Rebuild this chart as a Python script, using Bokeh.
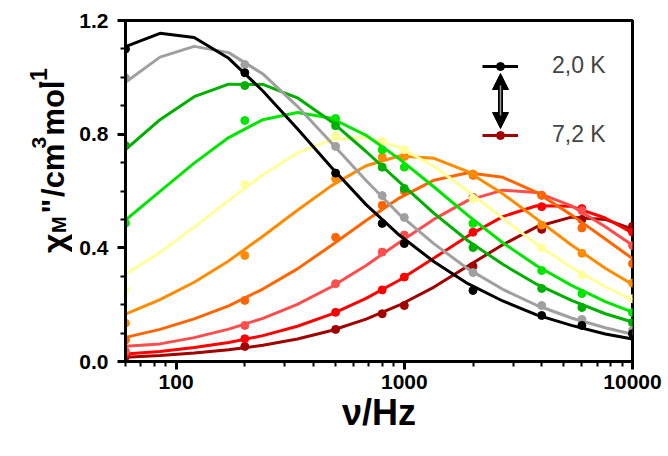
import math
from bokeh.plotting import figure
from bokeh.layouts import row
from bokeh.models import (FixedTicker, Label, Arrow, NormalHead, Legend, LegendItem,
                          Range1d, PrintfTickFormatter)
from bokeh.embed import file_html
from bokeh.resources import INLINE

# ---------------- data ----------------
freq_pts = [60, 200, 500, 800, 1000, 2000, 4000, 6000, 10000]
freq_fit = [60, 85, 120, 170, 240, 340, 480, 680, 950, 1350, 1900, 2700, 3800, 5400, 7600, 10000]

legend_labels = ["2,0 K", "7,2 K"]

colors = ["#000000", "#a0a0a0", "#00b000", "#00e600", "#ffff99",
          "#ff8c00", "#ff6600", "#ff4d4d", "#ff0000", "#a00000"]

pts_1 = [1.100, 1.016, 0.663, 0.486, 0.415, 0.250, 0.162, 0.127, 0.098]
pts_2 = [0.998, 1.045, 0.757, 0.584, 0.507, 0.313, 0.197, 0.148, 0.109]
pts_3 = [0.760, 0.971, 0.830, 0.684, 0.609, 0.401, 0.257, 0.190, 0.137]
pts_4 = [0.487, 0.848, 0.855, 0.745, 0.684, 0.486, 0.320, 0.239, 0.172]
pts_5 = [0.252, 0.623, 0.795, 0.775, 0.745, 0.572, 0.400, 0.305, 0.221]
pts_6 = [0.135, 0.373, 0.643, 0.719, 0.721, 0.660, 0.480, 0.381, 0.276]
pts_7 = [0.076, 0.215, 0.437, 0.550, 0.600, 0.655, 0.585, 0.470, 0.344]
pts_8 = [0.035, 0.127, 0.274, 0.385, 0.445, 0.578, 0.585, 0.531, 0.408]
pts_9 = [0.025, 0.080, 0.173, 0.252, 0.297, 0.455, 0.545, 0.538, 0.455]
pts_10 = [0.018, 0.053, 0.113, 0.168, 0.197, 0.335, 0.465, 0.500, 0.476]

fit_1 = [1.108, 1.155, 1.140, 1.067, 0.952, 0.819, 0.683, 0.552, 0.445, 0.351, 0.274, 0.213, 0.164, 0.127, 0.097, 0.079]
fit_2 = [0.983, 1.071, 1.109, 1.087, 1.012, 0.898, 0.769, 0.637, 0.518, 0.414, 0.326, 0.254, 0.198, 0.153, 0.119, 0.096]
fit_3 = [0.746, 0.851, 0.932, 0.976, 0.975, 0.928, 0.844, 0.739, 0.632, 0.521, 0.425, 0.342, 0.272, 0.215, 0.168, 0.139]
fit_4 = [0.498, 0.599, 0.698, 0.788, 0.851, 0.876, 0.856, 0.796, 0.713, 0.614, 0.514, 0.418, 0.337, 0.268, 0.211, 0.174]
fit_5 = [0.307, 0.384, 0.473, 0.567, 0.657, 0.734, 0.781, 0.788, 0.754, 0.686, 0.599, 0.504, 0.413, 0.331, 0.263, 0.217]
fit_6 = [0.167, 0.218, 0.279, 0.354, 0.441, 0.532, 0.619, 0.689, 0.723, 0.715, 0.668, 0.590, 0.502, 0.410, 0.328, 0.271]
fit_7 = [0.085, 0.113, 0.150, 0.196, 0.255, 0.326, 0.409, 0.496, 0.575, 0.638, 0.664, 0.648, 0.595, 0.516, 0.431, 0.362]
fit_8 = [0.054, 0.062, 0.084, 0.114, 0.152, 0.201, 0.263, 0.338, 0.419, 0.501, 0.567, 0.603, 0.595, 0.548, 0.474, 0.409]
fit_9 = [0.026, 0.035, 0.049, 0.067, 0.091, 0.124, 0.167, 0.222, 0.286, 0.364, 0.442, 0.510, 0.548, 0.546, 0.505, 0.452]
fit_10 = [0.015, 0.021, 0.030, 0.041, 0.057, 0.079, 0.109, 0.149, 0.198, 0.262, 0.336, 0.411, 0.474, 0.508, 0.500, 0.466]

pts_all = [pts_1, pts_2, pts_3, pts_4, pts_5, pts_6, pts_7, pts_8, pts_9, pts_10]
fit_all = [fit_1, fit_2, fit_3, fit_4, fit_5, fit_6, fit_7, fit_8, fit_9, fit_10]

y_ticks = [0.0, 0.4, 0.8, 1.2]
y_minor = [0.1, 0.2, 0.3, 0.5, 0.6, 0.7, 0.9, 1.0, 1.1]
x_ticks = [100, 1000, 10000]
x_minor = [60, 70, 80, 90, 200, 300, 400, 500, 600, 700, 800, 900,
           2000, 3000, 4000, 5000, 6000, 7000, 8000, 9000]

FONT = "Liberation Sans"
LEFT_W = 72

# ---------------- main figure ----------------
p = figure(width=668 - LEFT_W, height=456, x_axis_type="log",
           x_range=Range1d(60, 10000), y_range=Range1d(0, 1.2),
           output_backend="svg", toolbar_location=None,
           min_border_left=125 - LEFT_W, min_border_right=36,
           min_border_top=20, min_border_bottom=95)
p.xgrid.visible = False
p.ygrid.visible = False
p.outline_line_color = "black"
p.outline_line_width = 3
p.outline_line_alpha = 1.0
p.background_fill_color = "white"
p.border_fill_color = "white"

for ax in (p.xaxis[0], p.yaxis[0]):
    ax.axis_line_width = 3
    ax.major_tick_line_width = 3
    ax.minor_tick_line_width = 2
    ax.major_tick_in = 0
    ax.major_tick_out = 8
    ax.minor_tick_in = 0
    ax.minor_tick_out = 5
    ax.major_label_text_font = FONT
    ax.major_label_text_font_style = "bold"
    ax.major_label_text_font_size = "21px"
    ax.major_label_text_color = "black"

p.yaxis[0].ticker = FixedTicker(ticks=y_ticks, minor_ticks=y_minor)
p.yaxis[0].formatter = PrintfTickFormatter(format="%.1f")
p.yaxis[0].major_label_standoff = 9

p.xaxis[0].ticker = FixedTicker(ticks=x_ticks, minor_ticks=x_minor)
p.xaxis[0].formatter = PrintfTickFormatter(format="%d")
p.xaxis[0].major_label_standoff = 5
p.xaxis[0].axis_label = "\u03bd/Hz"
p.xaxis[0].axis_label_text_font = FONT
p.xaxis[0].axis_label_text_font_style = "bold"
p.xaxis[0].axis_label_text_font_size = "36px"
p.xaxis[0].axis_label_text_color = "black"
p.xaxis[0].axis_label_standoff = 0

rmap = {}
for i in reversed(range(len(pts_all))):
    ln = p.line(freq_fit, fit_all[i], line_width=3, line_color=colors[i])
    sc = p.scatter(freq_pts, pts_all[i], size=8, fill_color=colors[i], line_color=colors[i])
    rmap[i] = [ln, sc]

legend = Legend(items=[
    LegendItem(label=legend_labels[0], renderers=rmap[0]),
    LegendItem(label=legend_labels[1], renderers=rmap[9]),
])
legend.location = (357, 213)
legend.label_text_font = FONT
legend.label_text_font_size = "23px"
legend.glyph_width = 36
legend.glyph_height = 20
legend.label_height = 20
legend.label_standoff = 34
legend.spacing = 42
legend.padding = 0
legend.margin = 0
legend.border_line_alpha = 0
legend.background_fill_alpha = 0
p.add_layout(legend)

arrow = Arrow(x_start=375, y_start=288, x_end=375, y_end=233,
              start_units="screen", end_units="screen",
              start=NormalHead(size=16, fill_color="black", line_color="black"),
              end=NormalHead(size=16, fill_color="black", line_color="black"),
              line_width=5, line_color="black")
p.add_layout(arrow)
shaft = Arrow(x_start=375, y_start=276, x_end=375, y_end=246,
              start_units="screen", end_units="screen", start=None, end=None,
              line_width=1.5, line_color="#9a9a9a")
p.add_layout(shaft)

# ---------------- left strip carrying the y-axis title ----------------
t = figure(width=LEFT_W, height=456, x_range=Range1d(0, LEFT_W), y_range=Range1d(0, 456),
           output_backend="svg", toolbar_location=None,
           x_axis_location=None, y_axis_location=None,
           min_border=0, min_border_left=0, min_border_right=0,
           min_border_top=0, min_border_bottom=0)
t.xgrid.visible = False
t.ygrid.visible = False
t.outline_line_color = None
t.background_fill_color = "white"
t.border_fill_color = "white"

# (text, baseline x, start y measured from the top, size)
pieces = [
    ("\u03c7", 53, 311, "34px"),
    ("M", 58, 284, "20px"),
    ("\"", 53, 258, "31px"),
    ("/cm", 53, 236, "31px"),
    ("3", 38, 171, "21px"),
    ("mol", 53, 154, "31px"),
    ("-1", 38, 91, "23px"),
]
for txt, cx, cy, fs in pieces:
    t.add_layout(Label(x=cx, y=456 - cy, text=txt,
                       angle=math.pi / 2, text_font=FONT, text_font_style="bold",
                       text_font_size=fs, text_align="left", text_baseline="alphabetic",
                       text_color="black"))

layout = row(t, p, spacing=0)
open("out.html", "w").write(file_html(layout, INLINE))
